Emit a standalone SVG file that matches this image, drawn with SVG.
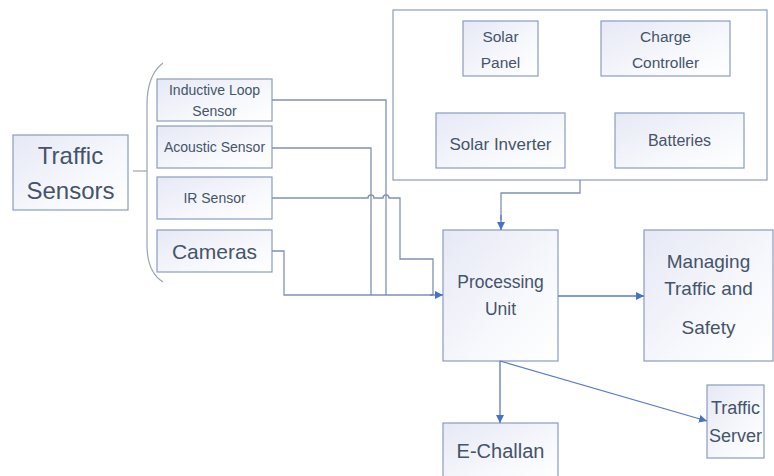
<svg xmlns="http://www.w3.org/2000/svg" width="774" height="476" viewBox="0 0 774 476">
  <style>
    .box { fill: url(#boxFill); stroke: #8a9bc0; stroke-width: 1.2; }
    .frame { fill: #ffffff; stroke: #8a9bc0; stroke-width: 1.2; }
    .t { font-family: "Liberation Sans", Arial, sans-serif; fill: #44546a; text-anchor: middle; }
    .wire { fill: none; stroke: #8191b3; stroke-width: 1.3; }
    .arrow { fill: none; stroke: #5b7bc4; stroke-width: 1.3; marker-end: url(#head); }
  </style>
  <defs>
    <linearGradient id="boxFill" x1="0" y1="0" x2="1" y2="1">
      <stop offset="0" stop-color="#e6e8f5"/>
      <stop offset="0.6" stop-color="#f7f8fc"/>
      <stop offset="1" stop-color="#ffffff"/>
    </linearGradient>
    <marker id="head" viewBox="0 0 10 10" refX="10" refY="5" markerWidth="8" markerHeight="8" markerUnits="userSpaceOnUse" orient="auto">
      <path d="M0,0 L10,5 L0,10 z" fill="#4472c4"/>
    </marker>
  </defs>

  <rect width="774" height="476" fill="#ffffff"/>

  <!-- Power supply enclosure -->
  <g id="power-frame">
    <rect class="frame" x="393" y="10" width="374" height="170"/>
  </g>

  <g id="traffic-sensors">
    <rect class="box" x="13" y="135" width="115" height="75"/>
    <text class="t" x="70.500" y="164" font-size="24">Traffic</text>
    <text class="t" x="70.500" y="199" font-size="24">Sensors</text>
  </g>

  <!-- Brace grouping the sensor types -->
  <g id="sensor-brace">
    <path d="M133,171 H147" fill="none" stroke="#9aa3b5" stroke-width="1.2"/>
    <path d="M163,63 Q147,75 147,105 V245 Q147,272 163,282" fill="none" stroke="#9aa3b5" stroke-width="1.2"/>
  </g>

  <g id="inductive-loop">
    <rect class="box" x="157" y="79" width="115" height="42"/>
    <text class="t" x="214.500" y="95" font-size="14">Inductive Loop</text>
    <text class="t" x="214.500" y="116" font-size="14">Sensor</text>
  </g>
  <g id="acoustic-sensor">
    <rect class="box" x="157" y="126" width="115" height="42"/>
    <text class="t" x="214.500" y="152" font-size="14">Acoustic Sensor</text>
  </g>
  <g id="ir-sensor">
    <rect class="box" x="157" y="177" width="115" height="42"/>
    <text class="t" x="214.500" y="203" font-size="14">IR Sensor</text>
  </g>
  <g id="cameras">
    <rect class="box" x="157" y="230" width="115" height="42"/>
    <text class="t" x="214.500" y="259" font-size="21">Cameras</text>
  </g>

  <g id="solar-panel">
    <rect class="box" x="463" y="21" width="75" height="55"/>
    <text class="t" x="500.500" y="42" font-size="15.500">Solar</text>
    <text class="t" x="500.500" y="68" font-size="15.500">Panel</text>
  </g>
  <g id="charge-controller">
    <rect class="box" x="601" y="21" width="129" height="55"/>
    <text class="t" x="665.500" y="42" font-size="15.500">Charge</text>
    <text class="t" x="665.500" y="68" font-size="15.500">Controller</text>
  </g>
  <g id="solar-inverter">
    <rect class="box" x="436" y="113" width="129" height="55"/>
    <text class="t" x="500.500" y="150" font-size="17">Solar Inverter</text>
  </g>
  <g id="batteries">
    <rect class="box" x="615" y="113" width="129" height="55"/>
    <text class="t" x="679.500" y="146" font-size="16">Batteries</text>
  </g>

  <g id="processing-unit">
    <rect class="box" x="443" y="230" width="115" height="131"/>
    <text class="t" x="500.500" y="288" font-size="17.500">Processing</text>
    <text class="t" x="500.500" y="315" font-size="17.500">Unit</text>
  </g>
  <g id="managing-traffic">
    <rect class="box" x="644" y="230" width="129" height="131"/>
    <text class="t" x="708.500" y="268" font-size="19">Managing</text>
    <text class="t" x="708.500" y="295" font-size="19">Traffic and</text>
    <text class="t" x="708.500" y="334" font-size="19">Safety</text>
  </g>
  <g id="traffic-server">
    <rect class="box" x="707" y="385" width="57" height="73"/>
    <text class="t" x="735.500" y="414" font-size="18">Traffic</text>
    <text class="t" x="735.500" y="442" font-size="18">Server</text>
  </g>
  <g id="e-challan">
    <rect class="box" x="443" y="423" width="115" height="60"/>
    <text class="t" x="500.500" y="458" font-size="20">E-Challan</text>
  </g>

  <g id="connectors">
    <!-- sensor feeds into the processing unit -->
    <path class="wire" d="M272,100 H386 V295"/>
    <path class="wire" d="M272,148 H371 V295"/>
    <path class="wire" d="M272,198 H368 A3,3 0 0 1 374,198 H383 A3,3 0 0 1 389,198 H400 V259 H433 V295"/>
    <path class="wire" d="M272,251 H284 V295 H433"/>
    <path class="arrow" d="M430,295 H443"/>
    <!-- power supply down to the processing unit -->
    <path class="wire" d="M580,180 V193 H501 V220"/>
    <path class="arrow" d="M501,215 V230"/>
    <!-- outputs -->
    <path class="arrow" d="M558,296 H644"/>
    <path class="arrow" d="M500,361 V423"/>
    <path class="arrow" d="M500,361 L707,421"/>
  </g>
</svg>
